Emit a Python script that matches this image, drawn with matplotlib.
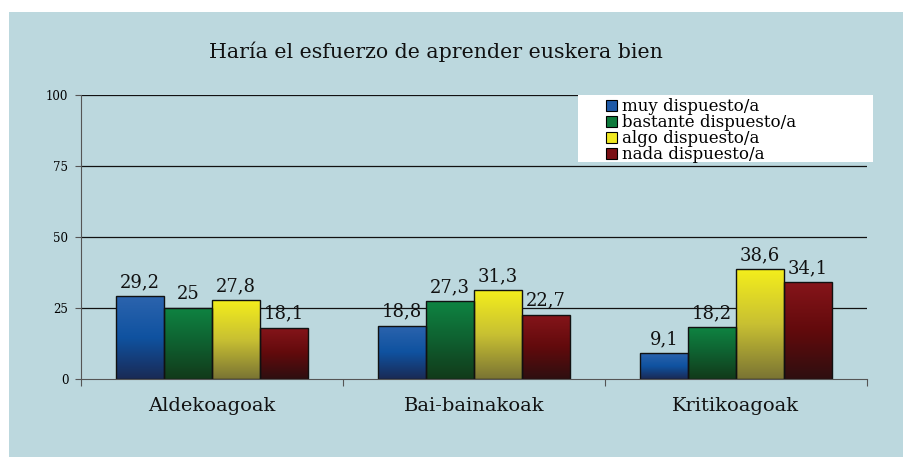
import numpy as np
import matplotlib.pyplot as plt
from matplotlib.patches import Rectangle, Patch
from matplotlib.colors import LinearSegmentedColormap

categories = ["Aldekoagoak", "Bai-bainakoak", "Kritikoagoak"]
series_names = ["muy dispuesto/a", "bastante dispuesto/a", "algo dispuesto/a", "nada dispuesto/a"]
muy = [29.2, 18.8, 9.1]
bastante = [25, 27.3, 18.2]
algo = [27.8, 31.3, 38.6]
nada = [18.1, 22.7, 34.1]
yticks = [0, 25, 50, 75, 100]
title = "Haría el esfuerzo de aprender euskera bien"

# top -> middle -> bottom shading for each series
gradients = [
    ["#2c64ae", "#0f52a0", "#1a2a55"],
    ["#0e8442", "#0f6030", "#123a1a"],
    ["#f4ee1c", "#c8c032", "#7a7434"],
    ["#86151a", "#620a0c", "#2e0f10"],
]
solid = ["#1f5aa8", "#0e7a3c", "#f0e820", "#7a1015"]

bg = "#bcd8de"
serif = ["DejaVu Serif"]

fig = plt.figure(figsize=(9.04, 4.57), dpi=100)
fig.patch.set_facecolor("white")
fig.add_artist(Rectangle((9 / 904, 0), 1, 1 - 12 / 457, transform=fig.transFigure,
                         facecolor=bg, edgecolor="none", zorder=0))

ax = fig.add_axes([81 / 904, 1 - 379 / 457, 786 / 904, 284 / 457])
ax.set_facecolor("none")

values = [muy, bastante, algo, nada]
x = np.arange(len(categories))
width = 0.183
grad = np.linspace(0, 1, 256).reshape(-1, 1)

for i, (vals, cols) in enumerate(zip(values, gradients)):
    cmap = LinearSegmentedColormap.from_list(f"g{i}", cols[::-1])
    offs = x + (i - 1.5) * width
    bars = ax.bar(offs, vals, width, facecolor="none", edgecolor="#111111",
                  linewidth=1.0, zorder=4)
    for b, v in zip(bars, vals):
        x0 = b.get_x()
        im = ax.imshow(grad, cmap=cmap, aspect="auto", origin="lower",
                       extent=(x0, x0 + width, 0, v), zorder=3)
        im.set_clip_path(b)
        ax.text(x0 + width / 2, v + 1.8, f"{v:g}".replace(".", ","),
                ha="center", va="bottom", fontsize=13, family=serif, color="#111111")

ax.set_xlim(-0.5, 2.5)
ax.set_ylim(0, 100)

for yv in yticks[1:]:
    ax.axhline(yv, color="#111111", linewidth=0.9, zorder=1)

for s in ["top", "right"]:
    ax.spines[s].set_visible(False)
ax.spines["left"].set_color("#555555")
ax.spines["bottom"].set_color("#555555")
ax.spines["left"].set_zorder(5)
ax.spines["bottom"].set_zorder(5)

ax.set_yticks(yticks)
ax.set_yticklabels([str(t) for t in yticks], family=serif, fontsize=8.5)
ax.tick_params(axis="y", length=4, color="#555555", pad=5)

ax.set_xticks([-0.5, 0.5, 1.5, 2.5], minor=False)
ax.set_xticklabels([])
ax.tick_params(axis="x", length=5, direction="out", color="#555555")
for xi, name in zip(x, categories):
    ax.text(xi, -6.5, name, ha="center", va="top", fontsize=14, family=serif,
            color="#111111")

fig.text(436 / 904, 1 - 52 / 457, title, ha="center", va="center",
         fontsize=14.8, family=serif, color="#111111")

# legend panel
ax.add_patch(Rectangle((0.632, 0.764), 0.375, 0.237, transform=ax.transAxes,
                       facecolor="white", edgecolor="none", zorder=6, clip_on=False))
handles = [Patch(facecolor=c, edgecolor="black", linewidth=0.8) for c in solid]
leg = ax.legend(handles, series_names, loc="upper left",
                bbox_to_anchor=(0.66, 1.012), frameon=False,
                prop={"family": serif, "size": 12}, handlelength=0.65,
                handleheight=0.65, handletextpad=0.3, labelspacing=-0.06,
                borderaxespad=0)
leg.set_zorder(7)

fig.savefig("out.png", dpi=100)
